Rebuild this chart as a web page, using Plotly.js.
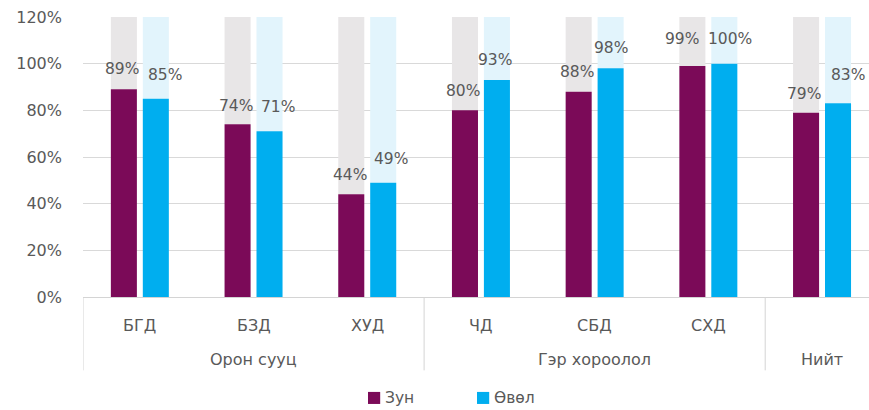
<!DOCTYPE html>
<html>
<head>
<meta charset="utf-8">
<script src="https://cdn.plot.ly/plotly-3.0.1.min.js"></script>
<style>html,body{margin:0;padding:0;background:#fff;}#chart{width:869px;height:410px;}</style>
</head>
<body>
<div id="chart"></div>
<script>
const categories = ['БГД', 'БЗД', 'ХУД', 'ЧД', 'СБД', 'СХД', 'Нийт'];
const groups = ['Орон сууц', 'Гэр хороолол', 'Нийт'];
const groupMembers = [[0, 2], [3, 5], [6, 6]];
const seriesNames = ['Зун', 'Өвөл'];
const summer = [89, 74, 44, 80, 88, 99, 79];
const winter = [85, 71, 49, 93, 98, 100, 83];
const axisMax = 120;
const yTicks = [0, 20, 40, 60, 80, 100, 120];

// label nudges in pixels (as placed in the reference)
const labelDx = [[-2, -2, -1, -1.5, -2, -10, -2.5], [9, 8, 8, -2, 0, 6, 10]];
const labelDy = [[20, 18, 19, 19, 20, 27.5, 18.7], [23.5, 24.5, 24, 20, 20, 25, 28]];

const txt = '#595959';
const fam = 'DejaVu Sans, Liberation Sans, Arial, sans-serif';
const font = {family: fam, size: 16, color: txt};
const labelFont = {family: fam, size: 15.5, color: txt};
const colors = ['#7b0a58', '#00aeef'];
const ghostColors = ['rgb(232,230,231)', 'rgb(226,244,252)'];
const W = 0.229;
const offsets = [-0.255, 0.026];

const series = [summer, winter];
const data = [];
series.forEach((vals, k) => {
  data.push({
    type: 'bar', x: categories, y: vals.map(v => axisMax - v), base: vals,
    offset: offsets[k], width: W, marker: {color: ghostColors[k]}, hoverinfo: 'skip', showlegend: false
  });
});
series.forEach((vals, k) => {
  data.push({
    type: 'bar', x: categories, y: vals, name: seriesNames[k], offset: offsets[k], width: W,
    marker: {color: colors[k]}, showlegend: false
  });
});

const shapes = [];
const annotations = [];
const pxPerUnit = 786 / 6.913;
series.forEach((vals, k) => {
  vals.forEach((v, i) => {
    annotations.push({xref: 'x', yref: 'y', x: categories[i], y: v, text: v + '%', showarrow: false,
      font: labelFont, xanchor: 'center', yanchor: 'middle',
      xshift: (offsets[k] + W / 2) * pxPerUnit + labelDx[k][i], yshift: labelDy[k][i]});
  });
});

const catLabelY = -0.1, groupLabelY = -0.222, lineBottom = -0.262;
const sepColor = '#d4d4d4';
shapes.push({type: 'line', xref: 'x', yref: 'paper', x0: -0.5, x1: -0.5, y0: 0, y1: lineBottom, line: {color: sepColor, width: 1}});
groupMembers.forEach((g, i) => {
  if (i < groupMembers.length - 1) {
    const xb = g[1] + 0.5;
    shapes.push({type: 'line', xref: 'x', yref: 'paper', x0: xb, x1: xb, y0: 0, y1: lineBottom, line: {color: sepColor, width: 1}});
  }
  const groupCenter = (g[0] + g[1]) / 2;
  annotations.push({xref: 'x', yref: 'paper', x: groupCenter, y: groupLabelY, text: groups[i], showarrow: false, font: font, yanchor: 'middle'});
});
categories.forEach((c, i) => {
  if (c !== 'Нийт') {
    annotations.push({xref: 'x', yref: 'paper', x: i, y: catLabelY, text: c, showarrow: false, font: font, yanchor: 'middle'});
  }
});

// legend (drawn manually to match the compact reference layout)
const legendX = [0.3626, 0.5013];
const sq = 0.0155;
seriesNames.forEach((n, k) => {
  shapes.push({type: 'rect', xref: 'paper', yref: 'paper', x0: legendX[k], x1: legendX[k] + sq, y0: -0.339, y1: -0.382,
    fillcolor: colors[k], line: {width: 0}});
  annotations.push({xref: 'paper', yref: 'paper', x: legendX[k] + sq + 0.004, y: -0.361, text: n, showarrow: false,
    font: {family: fam, size: 15.5, color: txt}, xanchor: 'left', yanchor: 'middle'});
});

const layout = {
  width: 869, height: 410,
  margin: {l: 83, r: 0, t: 17, b: 113},
  paper_bgcolor: '#fff', plot_bgcolor: '#fff',
  barmode: 'overlay',
  font: font,
  showlegend: false,
  xaxis: {type: 'category', range: [-0.5, 6.413], showticklabels: false, showgrid: false, zeroline: false,
          showline: true, linecolor: sepColor, linewidth: 1, fixedrange: true},
  yaxis: {range: [0, axisMax], tickvals: yTicks, ticktext: yTicks.map(v => v + '%'), showgrid: true,
          gridcolor: '#d9d9d9', gridwidth: 1, zeroline: false, showline: false, ticks: '',
          ticklabelstandoff: 20, tickfont: font},
  shapes: shapes,
  annotations: annotations
};

Plotly.newPlot('chart', data, layout, {displayModeBar: false, staticPlot: true});
</script>
</body>
</html>
